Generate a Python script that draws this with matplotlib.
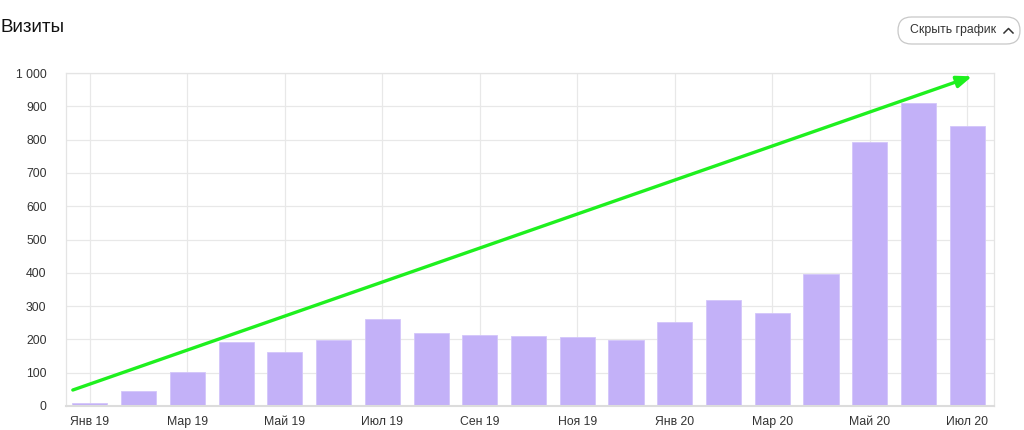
import matplotlib.pyplot as plt
from matplotlib.patches import FancyBboxPatch

# Monthly visits, Jan 2019 - Jul 2020
months = ["Янв 19", "Фев 19", "Мар 19", "Апр 19", "Май 19", "Июн 19", "Июл 19",
          "Авг 19", "Сен 19", "Окт 19", "Ноя 19", "Дек 19", "Янв 20", "Фев 20",
          "Мар 20", "Апр 20", "Май 20", "Июн 20", "Июл 20"]
visits = [9, 44, 103, 191, 162, 197, 261, 218, 212, 209, 206, 197,
          253, 318, 279, 396, 793, 911, 840]
y_ticks = [0, 100, 200, 300, 400, 500, 600, 700, 800, 900, 1000]
y_labels = ["0", "100", "200", "300", "400", "500", "600", "700", "800", "900", "1 000"]

# trend arrow drawn over the bars (data coords)
trend_start = (-0.35, 48)
trend_end = (18.1, 990)

plt.rcParams['font.family'] = ['Arial', 'Liberation Sans', 'DejaVu Sans']

fig = plt.figure(figsize=(10.24, 4.3), dpi=100)
ax = fig.add_axes([66 / 1024, 1 - 406 / 430, 928 / 1024, 333 / 430])

x = list(range(len(months)))
ax.bar(x, visits, width=0.72, color="#c3b1f8", edgecolor="#d3c6fa",
       linewidth=0.6, zorder=2)

ax.set_xlim(-0.49, 18.55)
ax.set_ylim(0, 1000)
ax.set_yticks(y_ticks)
ax.set_yticklabels(y_labels)
ax.set_xticks(x[::2])
ax.set_xticklabels(months[::2])
ax.tick_params(length=0, labelsize=8.8, colors="#333333")
ax.tick_params(axis="y", pad=14)
ax.tick_params(axis="x", pad=7)

ax.grid(True, color="#e8e8e8", linewidth=0.9, zorder=0)
ax.set_axisbelow(True)
for s in ax.spines.values():
    s.set_color("#e4e4e4")
    s.set_linewidth(0.9)
ax.spines["bottom"].set_color("#dcdcdc")
ax.spines["bottom"].set_linewidth(1.5)

ax.annotate("", xy=trend_end, xytext=trend_start,
            arrowprops=dict(arrowstyle="-|>,head_length=0.9,head_width=0.35",
                            color="#1ef01e", lw=2.4, shrinkA=0, shrinkB=0),
            zorder=5)

# header drawn in a pixel-space overlay
hdr = fig.add_axes([0, 0, 1, 1], zorder=-1)
hdr.set_xlim(0, 1024)
hdr.set_ylim(430, 0)
hdr.axis("off")

hdr.text(0, 28, "Визиты", fontsize=13.5, color="#111111",
         va="center", ha="left")

btn = FancyBboxPatch((898, 17), 122, 27,
                     boxstyle="round,pad=0,rounding_size=13.5",
                     facecolor="white", edgecolor="#c8c8c8", linewidth=0.9)
hdr.add_patch(btn)
hdr.text(910, 30.5, "Скрыть график", fontsize=8.8,
         color="#333333", va="center", ha="left")
hdr.plot([1004, 1008.5, 1013], [33, 28.5, 33], color="#333333", lw=1.1)

fig.savefig("out.png", dpi=100)
